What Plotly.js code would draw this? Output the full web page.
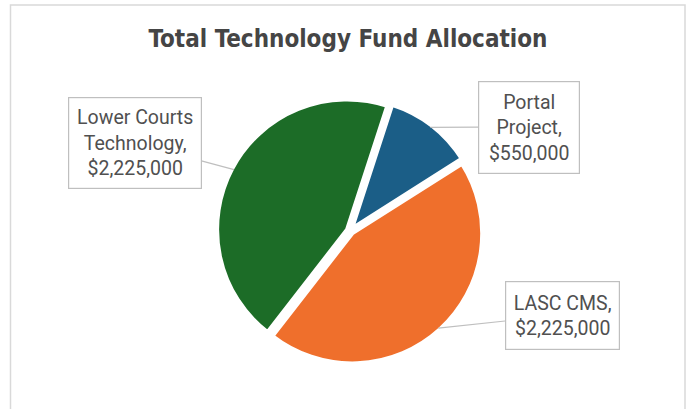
<!DOCTYPE html>
<html>
<head>
<meta charset="utf-8">
<script src="https://cdn.plot.ly/plotly-3.0.1.min.js"></script>
<style>html,body{margin:0;padding:0;background:#fff;}#chart{width:689px;height:409px;}</style>
</head>
<body>
<div id="chart"></div>
<script>
// ---- data ----
const categories = ["Portal Project", "LASC CMS", "Lower Courts Technology"];
const values = [550000, 2225000, 2225000];
const labelLines = [["Portal", "Project,"], ["LASC CMS,"], ["Lower Courts", "Technology,"]];
const colors = ["#1b5e87", "#ef6f2c", "#1c6c27"];

// ---- layout settings (pixels) ----
const W = 689, H = 409;
const cx = 350, cy = 231, R = 130, pullAmt = 0.025;
const rotationDeg = 18;
const boxCenters = [[529, 127], [562, 315], [135, 143]];
const boxSizes = [[98, 89], [111, 65], [130, 88]];

function fmt(v) { return "$" + v.toLocaleString("en-US"); }

const half = R * (1 + pullAmt);
const domain = {
  x: [(cx - half) / W, (cx + half) / W],
  y: [(H - cy - half) / H, (H - cy + half) / H]
};

const total = values.reduce((a, b) => a + b, 0);
let acc = 0;
const annotations = values.map((v, i) => {
  const mid = rotationDeg + (acc + v / 2) / total * 360;
  acc += v;
  const a = mid * Math.PI / 180;
  const rr = R * (1 + pullAmt) - 2;
  const tx = cx + rr * Math.sin(a), ty = cy - rr * Math.cos(a);
  const lines = labelLines[i].concat([fmt(v)]);
  return {
    xref: "paper", yref: "paper",
    x: tx / W, y: (H - ty) / H,
    ax: boxCenters[i][0] - tx, ay: boxCenters[i][1] - ty,
    axref: "pixel", ayref: "pixel",
    text: lines.join("<br>"),
    showarrow: true, arrowhead: 0, arrowwidth: 1.2, arrowcolor: "#bfbfbf",
    font: { family: "Roboto, 'Liberation Sans', sans-serif", size: 19.5, color: "#505050" },
    bordercolor: "#bfbfbf", borderwidth: 1.2, bgcolor: "#ffffff",
    width: boxSizes[i][0], height: boxSizes[i][1], align: "center", valign: "middle"
  };
});

const trace = {
  type: "pie",
  labels: categories,
  values: values,
  sort: false,
  direction: "clockwise",
  rotation: rotationDeg,
  pull: values.map(() => pullAmt),
  textinfo: "none",
  hoverinfo: "label+value",
  marker: { colors: colors, line: { color: "#ffffff", width: 4 } },
  domain: domain,
  showlegend: false
};

const layout = {
  width: W, height: H,
  margin: { l: 0, r: 0, t: 0, b: 0 },
  paper_bgcolor: "#ffffff",
  showlegend: false,
  title: {
    text: "<b>Total Technology Fund Allocation</b>",
    font: { family: "'DejaVu Sans Condensed', 'Liberation Sans Narrow', Roboto, sans-serif", size: 24, color: "#454545" },
    x: 0.505, xanchor: "center", y: 1 - 39 / H, yanchor: "middle"
  },
  shapes: [{
    type: "rect", xref: "paper", yref: "paper",
    x0: 10.5 / W, x1: 685 / W, y0: -0.05, y1: 1 - 5 / H,
    line: { color: "#d9d9d9", width: 1.5 }, fillcolor: "rgba(0,0,0,0)", layer: "below"
  }],
  annotations: annotations
};

Plotly.newPlot("chart", [trace], layout, { displayModeBar: false, staticPlot: true });
</script>
</body>
</html>
